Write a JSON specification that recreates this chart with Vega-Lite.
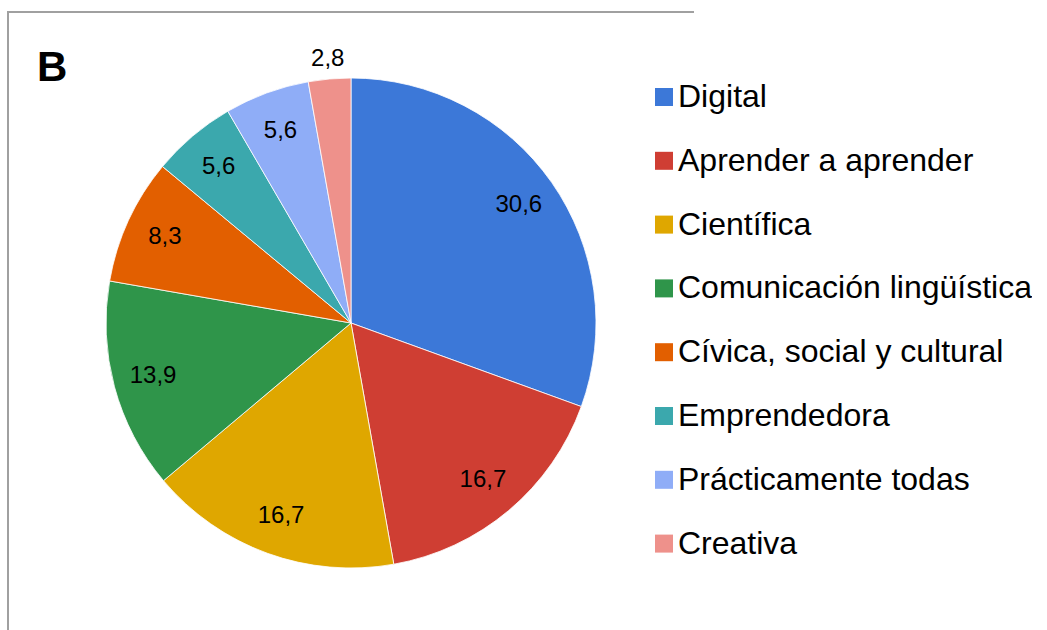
{
  "$schema": "https://vega.github.io/schema/vega-lite/v6.json",
  "width": 686,
  "height": 622,
  "padding": {"left": 8, "top": 12, "right": 0, "bottom": 0},
  "background": "white",
  "view": {"stroke": "#a0a0a0", "strokeWidth": 2, "strokeDash": [686, 1308, 622]},
  "title": {
    "text": "B",
    "anchor": "start",
    "frame": "group",
    "orient": "top",
    "offset": 0,
    "baseline": "alphabetic",
    "dx": 29,
    "dy": 111,
    "font": "Liberation Sans",
    "fontSize": 42,
    "fontWeight": "bold",
    "color": "#000000"
  },
  "config": {
    "locale": {"number": {"decimal": ",", "thousands": ".", "grouping": [3], "currency": ["", " €"]}},
    "font": "Liberation Sans"
  },
  "data": {
    "values": [
      {"o": 1, "competencia": "Digital", "valor": 30.6},
      {"o": 2, "competencia": "Aprender a aprender", "valor": 16.7},
      {"o": 3, "competencia": "Científica", "valor": 16.7},
      {"o": 4, "competencia": "Comunicación lingüística", "valor": 13.9},
      {"o": 5, "competencia": "Cívica, social y cultural", "valor": 8.3},
      {"o": 6, "competencia": "Emprendedora", "valor": 5.6},
      {"o": 7, "competencia": "Prácticamente todas", "valor": 5.6},
      {"o": 8, "competencia": "Creativa", "valor": 2.8}
    ]
  },
  "encoding": {
    "theta": {"field": "valor", "type": "quantitative", "stack": true},
    "order": {"field": "o", "type": "quantitative"},
    "color": {
      "field": "competencia",
      "type": "nominal",
      "sort": null,
      "scale": {
        "domain": ["Digital", "Aprender a aprender", "Científica", "Comunicación lingüística", "Cívica, social y cultural", "Emprendedora", "Prácticamente todas", "Creativa"],
        "range": ["#3c78d8", "#cf3e33", "#dfa700", "#2f954a", "#e25f00", "#3ba8ad", "#8fadf7", "#ee918b"]
      },
      "legend": {
        "title": null,
        "orient": "none",
        "legendX": 640,
        "legendY": 69,
        "padding": 0,
        "symbolType": "square",
        "symbolSize": 324,
        "symbolStrokeWidth": 0,
        "symbolOpacity": 1,
        "labelFont": "Liberation Sans",
        "labelFontSize": 32,
        "labelColor": "#000000",
        "labelOffset": -2,
        "labelLimit": 600,
        "rowPadding": 31.8
      }
    }
  },
  "layer": [
    {
      "mark": {"type": "arc", "outerRadius": 245, "stroke": "#ffffff", "strokeWidth": 0.8}
    },
    {
      "mark": {"type": "text", "radius": 205, "fontSize": 24, "font": "Liberation Sans", "fill": "#000000"},
      "encoding": {
        "text": {"field": "valor", "type": "quantitative", "format": ".1f"},
        "opacity": {"condition": {"test": "datum.valor < 5", "value": 0}, "value": 1}
      }
    },
    {
      "mark": {"type": "text", "radius": 265, "fontSize": 24, "font": "Liberation Sans", "fill": "#000000"},
      "encoding": {
        "text": {"field": "valor", "type": "quantitative", "format": ".1f"},
        "opacity": {"condition": {"test": "datum.valor < 5", "value": 1}, "value": 0}
      }
    }
  ]
}
